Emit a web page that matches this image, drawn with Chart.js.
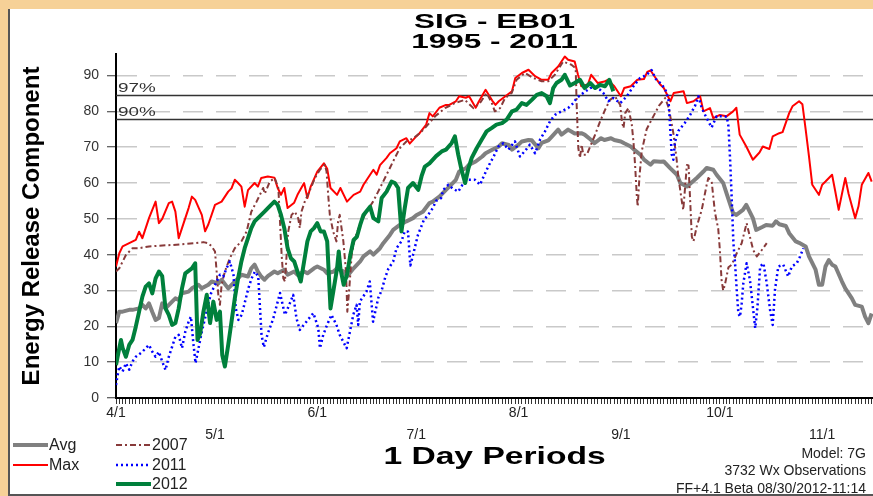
<!DOCTYPE html>
<html>
<head>
<meta charset="utf-8">
<title>SIG - EB01</title>
<script src="https://cdn.jsdelivr.net/npm/chart.js@4.4.0/dist/chart.umd.min.js"></script>
<style>
  body { margin: 0; width: 873px; height: 496px; overflow: hidden; position: relative; background: #f6d197; }
  #frame { position: absolute; left: 8px; top: 9px; width: 870px; height: 485px; background: #fff; border-left: 2px solid #555; border-bottom: 2px solid #555; }
  #wrap { position: absolute; left: 0; top: 0; width: 873px; height: 496px; }
</style>
</head>
<body>
<div id="frame"></div>
<div id="wrap"><canvas id="erc" width="873" height="496"></canvas></div>
<script>
// days after 4/1 -> ERC values
var monthDays = [0, 30, 61, 91, 122, 153, 183, 214];
var monthLabels = ['4/1', '5/1', '6/1', '7/1', '8/1', '9/1', '10/1', '11/1'];
var yTicks = [0, 10, 20, 30, 40, 50, 60, 70, 80, 90];
var pct97 = 84.6;
var pct90 = 77.9;

var avgDays = [0,1,2,4,5,7,8,9,10,11,12,13,14,15,17,18,19,20,22,23,25,26,28,29,31,32,34,36,37,38,40,41,42,43,44,45,46,48,49,51,52,54,55,57,58,60,61,63,64,66,67,69,70,72,74,75,77,78,80,81,83,84,86,88,90,91,93,95,96,98,100,101,103,104,106,107,109,111,112,114,116,117,119,120,122,123,125,126,128,129,131,132,134,135,137,139,141,142,144,145,147,148,150,151,153,154,156,157,159,160,162,163,165,166,168,170,171,173,174,176,178,179,181,182,184,185,187,188,190,191,193,194,196,197,199,200,201,203,204,206,207,209,210,212,213,214,215,216,217,218,220,221,223,224,226,227,228,229];
var avgVals = [20.9,24.1,24.1,24.6,24.6,25,26,25,26.4,24,21.8,22.3,26.4,25,26.9,27.8,27.4,29.2,29.7,30.6,31.6,30.6,31.6,32.5,32,33,30.6,32.5,33.4,34.4,33.9,36.2,37.2,35.3,33.9,33,34,35.3,34.8,35.8,34.4,35.3,34.4,35.3,34.8,36.2,36.7,35.8,34.8,35.3,36.2,35.3,33.9,36.2,38.1,39.5,40.9,40,41.8,43.2,45.5,46.9,48.3,49.3,50.2,51,52,54.4,54.8,56.2,58.1,59,60.9,63.2,64.1,65.1,66,67.4,68.3,69.3,70.2,71.1,70.6,69.3,70.7,71.6,72,71.9,69.7,71.2,71.9,72.9,74.9,73.5,74.9,73.8,73.9,73.5,72,71.1,72.5,72,72.5,72,71.6,71.1,70.2,69.3,67.8,66.5,65.1,66.1,65.9,66,64.1,62.3,60,59,59.8,61.4,63.2,64.2,63.7,62.3,60,57.2,51.6,51.1,52.5,53.9,50.2,46.9,47.8,48.3,48.1,49.3,48.5,48,46,43.7,43.3,42.3,39.5,35.8,31.6,31.6,36.7,38.5,37.2,36.7,32.5,30.6,27.8,26,25.5,22.7,20.9,23.6];

var maxDays = [0,1,2,4,6,7,8,10,12,13,14,16,17,18,19,20,22,23,24,26,27,28,30,32,34,35,36,37,38,39,40,42,43,44,46,48,49,50,51,52,54,55,57,58,59,61,63,64,65,67,68,70,72,74,75,77,78,79,80,82,83,85,86,88,89,91,92,94,95,96,98,100,101,103,104,106,107,109,110,112,114,115,116,118,120,121,123,125,127,129,131,132,134,136,137,139,140,141,143,144,146,148,149,151,153,154,156,158,160,161,162,163,165,166,168,169,172,173,175,177,178,180,181,183,185,187,188,189,191,193,195,196,198,199,201,202,204,205,207,208,209,210,211,213,214,215,217,218,219,220,221,222,224,225,226,228,229];
var maxVals = [36.7,40.4,42.3,43.2,44.1,46.4,44.6,50.2,54.8,48.8,50,54.4,54.8,52,44.6,47.4,53,56.2,55.3,51.1,46.5,48.5,53.9,54.8,57.6,58.5,60.9,60,59,53.4,58,60,59,61.4,61.8,61.5,58.6,56.7,58.6,53,54.5,56.7,60,55.8,59,63.2,65.5,64,58.6,56.7,58.6,54.8,56.7,57.6,59.5,62.3,63.7,62.3,65,67,68.3,69.7,71.6,72.5,71,73,73.9,76.3,79.5,78.6,81,81.8,81.8,82.8,84.2,83.8,84.2,81,82.8,86,83,81.8,82.8,84.2,85.6,89.3,90.7,91.6,89.8,88.8,88.8,90.7,92.5,95.3,94.4,93.9,90.2,87,87.5,90.2,87.9,88.3,88.8,87,84.2,86.5,87,88.8,89,91,91.4,90,87.4,86.5,82.8,85.1,85.6,82.3,82.8,84.2,80,80.9,78.1,79,78.6,80,81,73.5,70.2,66.5,68.5,70.2,69.5,73,73.9,74.2,79.5,81.4,82.8,82,74.9,67.4,59.5,56.7,59.5,60.4,62.3,57.5,52.5,57,61.4,57,50.2,53.5,59.5,62.8,60.4];

var y2007Days = [0,1,3,5,7,10,13,17,21,24,26.5,28,29,30,30.5,31,31.5,32,33,34.5,36,38,39.6,41,42.6,43.6,44.6,45.1,46.6,48.1,49.2,49.7,50.2,50.7,51.2,51.7,52.2,53.2,54.2,55.2,55.7,56.2,57.2,58.8,60.3,61.8,63.3,63.8,64.3,64.8,65.8,66.8,67.3,67.8,68.9,69.7,70.1,70.7,71.4,72.4,73.9,75.9,77.9,80,81.5,83,84.5,86,88,90.1,92,93.6,96.7,99.7,102.7,105.7,108.3,110.3,112.3,113.8,114.8,116.4,117.9,119.9,121.4,123.9,126.5,129,131,133,135.5,138,139.3,139.6,140.1,140.6,141.1,141.6,142.7,143.7,145.2,146.7,148.2,149.7,151.2,152.8,153.3,153.8,154.3,155.3,156.3,156.8,157.3,157.8,158.1,158.6,159.3,160.8,162.5,164.5,166.4,167.5,168.9,169.9,170.4,171.4,171.9,173,173.5,174.5,175,176,177.5,179,179.5,180.5,181.5,182.5,183,183.5,184,184.5,185.6,186.6,188.1,189.6,191.1,192.1,193.1,194.2,195.7,197.2];
var y2007Vals = [35.3,36.2,39.9,41.8,41.8,42.3,42.5,42.7,43,43.2,43.5,43.2,42.3,40.9,35.3,28.8,26,31.6,35.3,39,41.8,43.7,46.5,52,54.8,56.7,58.6,57,60.4,61.4,58.6,49.3,39.9,33.4,32.5,39.9,46.5,51.1,52,50.2,47.4,52,54.8,58.1,61.4,63.7,65.1,63.2,56.7,51.1,46.5,43.7,49.3,51.1,43.7,35.3,24.1,30.6,39.9,44.6,48.3,52,54.8,58.6,61.4,64.2,67,69.7,71.6,72.5,73.9,75.3,78.6,80.9,82.3,83.2,80.9,82.3,85.1,82.5,80,80.9,83.7,85.1,88.8,90.7,89.3,88.4,88.4,90.2,93.9,93,92,81.8,69.7,67,70.7,67.9,67.9,70.2,73.5,77.2,80.4,83.2,84.2,81.8,77.2,75.3,79.5,80.9,76.3,71.6,65.1,56.7,53.4,61.4,68.8,75,78,81.5,83.7,81,73.9,66.5,61.8,55.3,52.5,65,64.9,45,43.7,47.9,52.5,59.5,61.4,60.5,51.8,47.2,41.3,33,30,31.5,36.5,37.2,40.4,43.2,48.8,45,41.3,39.5,41.3,43.2];

var y2011Days = [0,0.5,1,2,3,4,5,6,8,9,10,11,12,13,14,15,16,17,18,19,20,21,22,22.7,23.4,24.1,25.2,26,27,28,28.8,29.5,30.5,31.5,32.5,33.5,34.5,35.6,36.3,37.1,38.1,39.1,40.1,41.1,42.1,43.1,44.1,44.8,46,47.6,49.7,51.2,52.5,53.7,54.7,55.7,57.7,59.8,61.3,61.8,62.8,64,65.3,66.8,67.8,69.9,71.9,72.9,73.4,73.9,75.9,76.9,77.9,79.5,80.5,81.5,82.5,84,85,86.5,87.5,88.5,89.2,90.3,91.5,93.3,94.5,96,97,98.5,99.2,100.7,102,103.7,105,106.8,108.8,110.3,111.5,112.8,114.5,115.9,117.4,118.9,120.9,122.4,124,125.4,127,128.5,130,131.5,133,135,137,138.6,139.6,141.6,143.7,145,146.7,147.7,149.2,150.7,152.8,154.8,156.8,158.8,160.8,162.3,163.6,164.9,166.4,167.4,167.9,168.4,168.9,169.4,170.4,172.4,174,175.5,176.5,177.5,179,180.5,182,183.5,185.1,185.6,186.1,186.6,187.1,187.6,188.1,188.6,189.1,189.6,190.1,191.1,192.1,193.1,193.7,194.4,195.2,196.2,197.2,198.2,199,199.7,200.7,202.2,203.7,204.8,206.3,207.3,208.3];
var y2011Vals = [3.6,6.4,8.8,7.4,9.7,7.9,10.2,11.5,12.9,13.9,14.8,12.9,11.5,12.9,10.2,7.8,11.5,14.3,17.1,17.6,13.9,18.5,21.3,22.7,15.7,9.7,14.8,18.5,22.3,26.4,29.2,30.6,32.5,34.4,33.9,36.2,38.1,34.4,25,21.8,23.2,26.9,30.6,33.4,35.3,33.9,17.6,14.2,18,22,29.3,23.2,26,28.8,22.2,19,21.3,23.7,19.5,13.9,17.6,20.5,23.2,20.4,17.6,13.9,23.2,26,20.4,26.9,29.7,32.5,21.3,28,30,33.4,36,38.1,41.8,43.7,46.5,46.4,37,41,45.5,49.7,51,53,55,55.8,58.1,59.5,58.5,57.6,59.5,60.9,60.9,59.5,62,64.6,67.5,70.2,71.1,69.3,71.6,67.4,69,70.7,68.3,72.1,74.4,77.2,79,80,80.9,82.3,83.7,85.1,86.5,86.8,86,85.1,82.8,83.7,82.3,84.2,87,89.3,90.2,91.5,89,87.9,86.3,83.5,76,68,66.5,71.5,74.5,76.8,79,81.6,84.2,80.9,78.1,75.5,78.6,78.6,78.5,75.8,66.5,55.3,43.2,37.6,30.2,23.6,22.7,26.4,32,37.6,33,24.6,19.5,25.5,36.7,37.6,32,24.6,20.4,30.2,36.7,37.2,33.9,36.7,37.6,39.5,41.8];

var y2012Days = [0,1,1.5,2,3,4,5,6,7,8,9,10,11,12,13,14,15,16,17,18,19,20,21,23,24,24.7,25.5,26.5,27.5,28.5,29.5,30.5,31.5,32.2,33,34,35,36,37,38,39,40,41,42,44,45,47,48,49,50,51,52,53,54,55,56,57,58,59,60,61,62,63,64,65,66,67,67.5,68,69,70,71,72,73,74,75,77,78,79.5,80.5,82,83.5,84.5,85.5,86.5,87.5,88.5,90,91.6,92.6,93.6,95,97,98.7,100,101.7,102.7,103.7,104.7,105.8,106.8,107.8,109.3,110.8,112.3,113.8,115.3,117,118.4,120,121.4,123,124.4,126,127.5,129,130.5,131.5,132.5,133.5,135,136,137.6,139,140.6,142,143.7,145.2,146.7,148.2,149.5,150.7];
var y2012Vals = [9.2,13.9,16.2,14,11.5,14.8,16.2,19.9,24.1,28.3,31.1,32,29.2,33.4,35.3,34,25,23.2,20.4,20.9,25,30.6,34.8,36.2,37.6,16.2,18,24.1,28.8,20.9,26.9,21.8,24.1,12,8.8,14.8,21.3,27.8,33.4,38.1,41.8,44.6,47.4,49.3,51.1,52,53.9,54.8,53.9,51.1,47.4,41.8,39,38.1,35.3,32.5,38.1,43.7,46.5,47.4,48.8,46.5,46.5,43.7,25,30.6,36.2,40.9,36.2,31.6,34.4,39.9,44.1,45,48.3,51.1,53.4,50.2,49.3,55.8,57.6,60.4,60,58.6,46.5,53,58.6,60,58.1,61.9,64.6,65.5,67.5,68.8,69.3,71.1,73,67.9,63.7,60,64.1,67,69.7,72.1,74.4,75.3,76.3,76.7,77.7,80,80.5,82.3,81.8,83.2,84.6,85.1,84.2,82.3,86.5,87.9,88.8,90.2,87.2,87.9,88.8,86.5,87.9,86.5,87.4,87,88.8,85.6];

function pts(days, vals) {
    return days.map(function(d, i) { return {x: d, y: vals[i]}; });
}

Chart.defaults.font.family = 'Arial, "Liberation Sans", sans-serif';

// 97% / 90% percentile lines, under the data
var pctLines = {
    id: 'pctLines',
    beforeDatasetsDraw: function(chart) {
        var ctx = chart.ctx, a = chart.chartArea, y = chart.scales.y;
        ctx.save();
        ctx.strokeStyle = '#333';
        ctx.lineWidth = 1.5;
        [[pct97, '97%'], [pct90, '90%']].forEach(function(p) {
            var py = Math.round(y.getPixelForValue(p[0])) + 0.5;
            ctx.beginPath();
            ctx.moveTo(a.left, py);
            ctx.lineTo(a.right, py);
            ctx.stroke();
            wide(ctx, p[1], a.left + 2, py - 7, '13px Arial, "Liberation Sans"', 1.45, 'left', '#333');
        });
        ctx.restore();
    }
};

function wide(ctx, txt, x, y, font, sx, align, color) {
    ctx.save();
    ctx.font = font;
    ctx.fillStyle = color || '#000';
    ctx.textAlign = align || 'center';
    ctx.textBaseline = 'middle';
    ctx.translate(x, y);
    ctx.scale(sx, 1);
    ctx.fillText(txt, 0, 0);
    ctx.restore();
}

// titles, legend and notes
var legendSpots = [
    {label: 'Avg', x: 13, y: 445},
    {label: 'Max', x: 13, y: 465},
    {label: '2007', x: 116, y: 445},
    {label: '2011', x: 116, y: 465},
    {label: '2012', x: 116, y: 484}
];
var textPlugin = {
    id: 'texts',
    afterDraw: function(chart) {
        var ctx = chart.ctx, a = chart.chartArea;
        var cx = (a.left + a.right) / 2;
        wide(ctx, 'SIG - EB01', cx, 22, 'bold 21px Arial, "Liberation Sans"', 1.5);
        wide(ctx, '1995 - 2011', cx, 42, 'bold 21px Arial, "Liberation Sans"', 1.5);
        wide(ctx, '1 Day Periods', cx, 457, 'bold 24px Arial, "Liberation Sans"', 1.4);

        legendSpots.forEach(function(s) {
            var ds = chart.data.datasets.filter(function(d) { return d.label == s.label; })[0];
            ctx.save();
            ctx.strokeStyle = ds.borderColor;
            ctx.lineWidth = ds.borderWidth;
            ctx.setLineDash(ds.borderDash || []);
            ctx.beginPath();
            ctx.moveTo(s.x, s.y);
            ctx.lineTo(s.x + 35, s.y);
            ctx.stroke();
            ctx.restore();
            wide(ctx, s.label, s.x + 36, s.y + 1, '16px Arial, "Liberation Sans"', 1.0, 'left', '#222');
        });

        wide(ctx, 'Model: 7G', 866, 454, '14px Arial, "Liberation Sans"', 1.0, 'right', '#222');
        wide(ctx, '3732 Wx Observations', 866, 471, '14px Arial, "Liberation Sans"', 1.0, 'right', '#222');
        wide(ctx, 'FF+4.1 Beta 08/30/2012-11:14', 866, 489, '14px Arial, "Liberation Sans"', 1.0, 'right', '#222');
    }
};

var erc = new Chart(document.getElementById('erc').getContext('2d'), {
    type: 'line',
    data: {
        datasets: [
            {label: 'Avg', data: pts(avgDays, avgVals), borderColor: '#808080', borderWidth: 4, order: 5},
            {label: 'Max', data: pts(maxDays, maxVals), borderColor: '#ff0000', borderWidth: 2, order: 4},
            {label: '2007', data: pts(y2007Days, y2007Vals), borderColor: '#883a3a', borderWidth: 2, borderDash: [6, 3, 2, 3], order: 3},
            {label: '2011', data: pts(y2011Days, y2011Vals), borderColor: '#0000ff', borderWidth: 2.5, borderDash: [2, 3], order: 2},
            {label: '2012', data: pts(y2012Days, y2012Vals), borderColor: '#00803c', borderWidth: 4, order: 1}
        ]
    },
    options: {
        responsive: false,
        devicePixelRatio: 1,
        animation: false,
        events: [],
        layout: {padding: {top: 54, left: 0, right: 0, bottom: 0}},
        elements: {
            point: {radius: 0},
            line: {tension: 0, fill: false, borderJoinStyle: 'round'}
        },
        plugins: {legend: {display: false}, tooltip: {enabled: false}, title: {display: false}},
        scales: {
            x: {
                type: 'linear',
                min: 0,
                max: 229.4,
                afterBuildTicks: function(scale) {
                    var t = [];
                    for (var d = 0; d <= 229; d++) t.push({value: d});
                    scale.ticks = t;
                },
                afterFit: function(scale) { scale.height = 98; },
                grid: {drawOnChartArea: false, tickLength: 6, tickColor: '#333', lineWidth: 1},
                border: {color: '#000', width: 2},
                ticks: {
                    autoSkip: false,
                    maxRotation: 0,
                    minRotation: 0,
                    padding: -2,
                    color: '#222',
                    font: {size: 14, lineHeight: '22px'},
                    callback: function(value) {
                        var i = monthDays.indexOf(value);
                        if (i < 0) return '';
                        return i % 2 == 0 ? [monthLabels[i], ''] : ['', monthLabels[i]];
                    }
                }
            },
            y: {
                min: 0,
                max: 96,
                afterBuildTicks: function(scale) {
                    scale.ticks = yTicks.map(function(v) { return {value: v}; });
                },
                afterFit: function(scale) { scale.width = 116; },
                grid: {
                    color: function(c) { return c.tick && c.tick.value == 0 ? 'rgba(0,0,0,0)' : '#c9c9c9'; },
                    lineWidth: 1.5,
                    tickLength: 9,
                    tickColor: '#333',
                    tickWidth: 1
                },
                border: {color: '#000', width: 2, dash: [20, 13]},
                ticks: {padding: 8, color: '#333', font: {size: 14}},
                title: {
                    display: true,
                    text: 'Energy Release Component',
                    color: '#000',
                    font: {size: 24, weight: 'bold'},
                    padding: {top: 18, bottom: 0}
                }
            }
        }
    },
    plugins: [pctLines, textPlugin]
});
</script>
</body>
</html>
